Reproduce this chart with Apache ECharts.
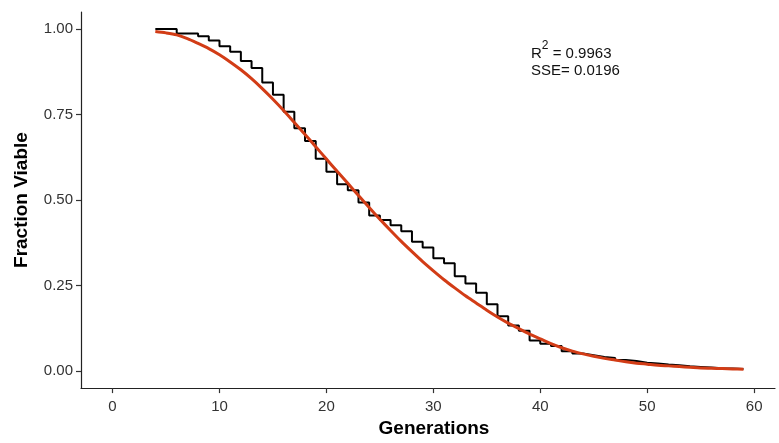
<!DOCTYPE html>
<html>
<head>
<meta charset="utf-8">
<script src="https://cdn.jsdelivr.net/npm/echarts@6/dist/echarts.min.js"></script>
<style>html,body{margin:0;padding:0;background:#fff}#c{width:779px;height:443px}</style>
</head>
<body>
<div id="c"></div>
<script>
// Generations (x)
var generations = [4,5,6,7,8,9,10,11,12,13,14,15,16,17,18,19,20,21,22,23,24,25,26,27,28,29,30,31,
  32,33,34,35,36,37,38,39,40,41,42,43,44,45,46,47,48,49,50,51,52,53,54,55,56,57,58,59];
// Observed fraction viable (step)
var observed = [1.000,1.000,0.987,0.987,0.979,0.967,0.950,0.934,0.907,0.886,0.844,0.808,0.758,0.710,
  0.673,0.621,0.583,0.546,0.529,0.493,0.455,0.442,0.426,0.409,0.378,0.361,0.330,0.315,0.277,0.256,
  0.229,0.195,0.160,0.133,0.118,0.089,0.080,0.073,0.058,0.051,0.046,0.041,0.038,0.032,0.029,0.024,
  0.022,0.019,0.017,0.014,0.012,0.010,0.008,0.007,0.006,0.005];
// Fitted curve
var fitted = [0.993,0.989,0.983,0.972,0.958,0.943,0.925,0.904,0.881,0.855,0.826,0.795,0.762,0.727,
  0.692,0.656,0.620,0.584,0.549,0.513,0.478,0.444,0.411,0.379,0.349,0.320,0.293,0.267,0.243,0.220,
  0.199,0.178,0.158,0.140,0.124,0.108,0.094,0.080,0.068,0.058,0.050,0.043,0.037,0.032,0.027,0.023,
  0.020,0.017,0.015,0.013,0.011,0.009,0.008,0.007,0.006,0.005];
var xTicks = [0,10,20,30,40,50,60];
var yTicks = [0,0.25,0.5,0.75,1];
var r2Text = '0.9963';
var sseText = '0.0196';

var obsData = generations.map(function(g,i){return [g, observed[i]];});
var fitData = generations.map(function(g,i){return [g, fitted[i]];});

var chart = echarts.init(document.getElementById('c'), null, {renderer:'canvas'});
var labelFont = 'Liberation Sans, Arial, sans-serif';
chart.setOption({
  animation: false,
  backgroundColor: '#ffffff',
  grid: {left: 81, right: 4, top: 12, bottom: 50, containLabel: false},
  xAxis: {
    type: 'value', min: -2.95, max: 61.95,
    name: 'Generations', nameLocation: 'middle', nameGap: 30,
    nameTextStyle: {fontFamily: labelFont, fontWeight: 'bold', fontSize: 19, color: '#000', padding: [0,0,0,12]},
    axisLine: {show: true, onZero: false, lineStyle: {color: '#222', width: 1.2}},
    axisTick: {show: true, length: 5, lineStyle: {color: '#333', width: 1.2}, customValues: xTicks},
    axisLabel: {show: true, margin: 11, fontFamily: labelFont, fontSize: 15, color: '#333', customValues: xTicks},
    splitLine: {show: false}
  },
  yAxis: {
    type: 'value', min: -0.05, max: 1.05,
    name: 'Fraction Viable', nameLocation: 'middle', nameGap: 50,
    nameTextStyle: {fontFamily: labelFont, fontWeight: 'bold', fontSize: 19, color: '#000'},
    axisLine: {show: true, onZero: false, lineStyle: {color: '#222', width: 1.2}},
    axisTick: {show: true, length: 5, lineStyle: {color: '#333', width: 1.2}, customValues: yTicks},
    axisLabel: {show: true, margin: 8, fontFamily: labelFont, fontSize: 15, color: '#333', customValues: yTicks,
      formatter: function(v){ return v.toFixed(2); }},
    splitLine: {show: false}
  },
  series: [
    {type: 'line', name: 'observed', data: obsData, step: 'end', showSymbol: false,
     lineStyle: {color: '#000', width: 2}, z: 2},
    {type: 'line', name: 'fit', data: fitData, smooth: 0.3, showSymbol: false,
     lineStyle: {color: '#d23c16', width: 3}, z: 3}
  ],
  graphic: [
    {type: 'text', left: 531, top: 40, z: 10,
     style: {text: '{a|R}{s|2}{a| = ' + r2Text + '}',
       rich: {a: {fontFamily: labelFont, fontSize: 15, lineHeight: 18, verticalAlign: 'bottom', fill: '#111'},
              s: {fontFamily: labelFont, fontSize: 12, lineHeight: 14, padding: [0,0,9,0], verticalAlign: 'bottom', fill: '#111'}}}},
    {type: 'text', left: 531, top: 63, z: 10,
     style: {text: 'SSE= ' + sseText, fontFamily: labelFont, fontSize: 15, fill: '#111'}}
  ]
});
</script>
</body>
</html>
